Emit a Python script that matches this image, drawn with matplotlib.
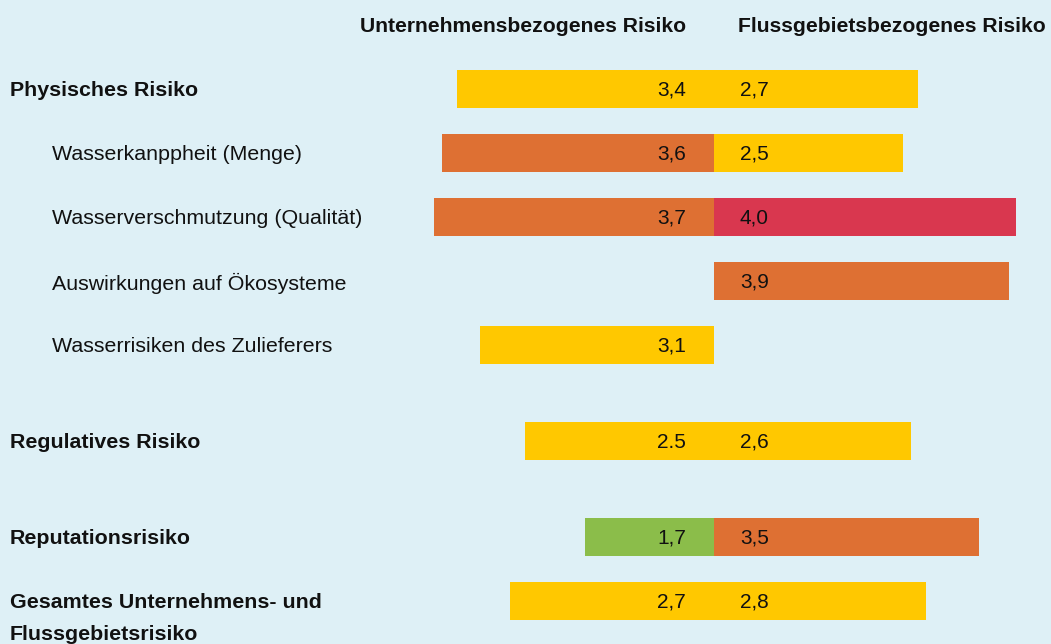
import matplotlib
matplotlib.use("Agg")
import matplotlib.pyplot as plt
from matplotlib.transforms import blended_transform_factory

# ---- data ----
labels = ["Physisches Risiko", "Wasserkanppheit (Menge)", "Wasserverschmutzung (Qualität)",
          "Auswirkungen auf Ökosysteme", "Wasserrisiken des Zulieferers",
          "Regulatives Risiko", "Reputationsrisiko",
          "Gesamtes Unternehmens- und\nFlussgebietsrisiko"]
is_main = [True, False, False, False, False, True, True, True]
row_pos = [0, 1, 2, 3, 4, 5.5, 7, 8]
company_vals = [3.4, 3.6, 3.7, None, 3.1, 2.5, 1.7, 2.7]
company_text = ["3,4", "3,6", "3,7", None, "3,1", "2.5", "1,7", "2,7"]
basin_vals = [2.7, 2.5, 4.0, 3.9, None, 2.6, 3.5, 2.8]
basin_text = ["2,7", "2,5", "4,0", "3,9", None, "2,6", "3,5", "2,8"]
header_left = "Unternehmensbezogenes Risiko"
header_right = "Flussgebietsbezogenes Risiko"

YELLOW = "#ffc800"
ORANGE = "#de7033"
RED = "#d9374f"
GREEN = "#8bbd4a"
BG = "#def0f6"

company_colors = [YELLOW, ORANGE, ORANGE, None, YELLOW, YELLOW, GREEN, YELLOW]
basin_colors = [YELLOW, YELLOW, RED, ORANGE, None, YELLOW, ORANGE, YELLOW]

FONT = ["Liberation Sans", "DejaVu Sans"]
TXT = "#111111"

W, H = 1051, 644
fig = plt.figure(figsize=(W / 100, H / 100), dpi=100)
fig.patch.set_facecolor(BG)
ax = fig.add_axes([0, 0, 1, 1])
ax.set_facecolor(BG)

center_px = 714.0
ppu = 75.6  # pixels per unit
ax.set_xlim(-center_px / ppu, (W - center_px) / ppu)
row_px = 64.0
top0 = 89.0
ax.set_ylim((H - top0) / row_px, -top0 / row_px)
ax.axis("off")

bh = 38 / row_px
dy = 1.5 / row_px
for i, y in enumerate(row_pos):
    cv = company_vals[i]
    bv = basin_vals[i]
    if cv is not None:
        ax.barh(y, -cv, height=bh, color=company_colors[i], linewidth=0)
        ax.text(-28 / ppu, y + dy, company_text[i], ha="right", va="center",
                fontsize=15, family=FONT, color=TXT)
    if bv is not None:
        ax.barh(y, bv, height=bh, color=basin_colors[i], linewidth=0)
        ax.text(26 / ppu, y + dy, basin_text[i], ha="left", va="center",
                fontsize=15, family=FONT, color=TXT)

trans = blended_transform_factory(fig.transFigure, ax.transData)
ldy = 2.0 / row_px
for i, y in enumerate(row_pos):
    if is_main[i]:
        for k, line in enumerate(labels[i].split("\n")):
            ax.text(10 / W, y + ldy + k * 32 / row_px, line, transform=trans, ha="left",
                    va="center", fontsize=15.4, fontweight="bold", family=FONT, color=TXT)
    else:
        ax.text(52 / W, y + ldy, labels[i], transform=trans, ha="left", va="center",
                fontsize=15.4, family=FONT, color=TXT)

ax.text(686 / W, 1 - 27 / H, header_left, transform=fig.transFigure, ha="right", va="center",
        fontsize=15.2, fontweight="bold", family=FONT, color=TXT)
ax.text(738 / W, 1 - 27 / H, header_right, transform=fig.transFigure, ha="left", va="center",
        fontsize=15.2, fontweight="bold", family=FONT, color=TXT)

fig.savefig("out.png", dpi=100, facecolor=BG)
